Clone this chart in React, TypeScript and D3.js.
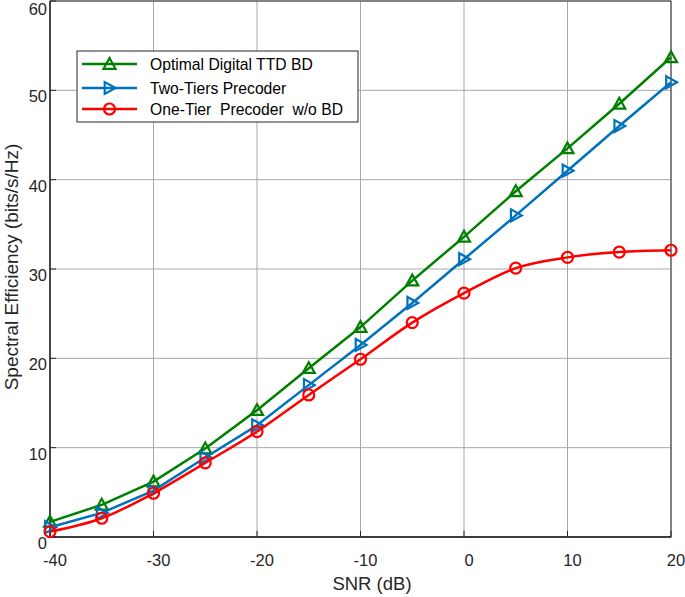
import * as React from "react";
import * as d3 from "d3";

const snr = [-40, -35, -30, -25, -20, -15, -10, -5, 0, 5, 10, 15, 20];
const optimalTTD = [1.7, 3.6, 6.2, 9.9, 14.2, 18.9, 23.5, 28.7, 33.6, 38.7, 43.5, 48.5, 53.7];
const twoTiers = [1.1, 2.7, 5.2, 8.9, 12.5, 17.0, 21.5, 26.2, 31.1, 36.0, 41.0, 46.0, 50.9];
const oneTier = [0.6, 2.1, 4.9, 8.3, 11.8, 15.9, 19.9, 24.0, 27.3, 30.1, 31.3, 31.9, 32.1];
const xTicks = [-40, -30, -20, -10, 0, 10, 20];
const yTicks = [0, 10, 20, 30, 40, 50, 60];
const legendLabels = ["Optimal Digital TTD BD", "Two-Tiers Precoder", "One-Tier  Precoder  w/o BD"];

const W = 685;
const H = 597;
const left = 50;
const right = 671;
const top = 1;
const bottom = 537;
const font = "Liberation Sans, Arial, sans-serif";

function App() {
  const x = d3.scaleLinear().domain([-40, 20]).range([left, right]);
  const y = d3.scaleLinear().domain([0, 60]).range([bottom, top]);

  const straight = d3
    .line<number>()
    .x((d, i) => x(snr[i]))
    .y((d) => y(d));
  const smooth = d3
    .line<number>()
    .x((d, i) => x(snr[i]))
    .y((d) => y(d))
    .curve(d3.curveMonotoneX);

  const series = [
    { name: legendLabels[0], data: optimalTTD, color: "#008000", marker: "tri", path: straight },
    { name: legendLabels[1], data: twoTiers, color: "#0072BD", marker: "right", path: straight },
    { name: legendLabels[2], data: oneTier, color: "#FF0000", marker: "circle", path: smooth },
  ];

  const marker = (kind: string, cx: number, cy: number, color: string, key: any) => {
    const s = 6;
    if (kind === "circle") {
      return <circle key={key} cx={cx} cy={cy} r={5.5} fill="none" stroke={color} strokeWidth={2.2} />;
    }
    if (kind === "tri") {
      const pts = `${cx},${cy - s} ${cx - s},${cy + s * 0.8} ${cx + s},${cy + s * 0.8}`;
      return <polygon key={key} points={pts} fill="none" stroke={color} strokeWidth={2.2} />;
    }
    const pts = `${cx + s},${cy} ${cx - s * 0.8},${cy - s} ${cx - s * 0.8},${cy + s}`;
    return <polygon key={key} points={pts} fill="none" stroke={color} strokeWidth={2.2} />;
  };

  const legendX = 77;
  const legendY = 51;
  const rowY = [64, 88, 109];

  return (
    <svg
      width={W}
      height={H}
      style={{ position: "absolute", left: 0, top: 0, background: "#fff" }}
      fontFamily={font}
    >
      <rect x={0} y={0} width={W} height={H} fill="#fff" />
      {/* grid */}
      {xTicks.map((t) => (
        <line key={"gx" + t} x1={x(t)} x2={x(t)} y1={top} y2={bottom} stroke="#a8a8a8" strokeWidth={1} />
      ))}
      {yTicks.map((t) => (
        <line key={"gy" + t} x1={left} x2={right} y1={y(t)} y2={y(t)} stroke="#a8a8a8" strokeWidth={1} />
      ))}
      {/* box */}
      <rect x={left} y={top} width={right - left} height={bottom - top} fill="none" stroke="#333" strokeWidth={1} />
      <line x1={left} x2={left} y1={top} y2={bottom} stroke="#262626" strokeWidth={1.3} />
      <line x1={left} x2={right} y1={bottom} y2={bottom} stroke="#262626" strokeWidth={1.3} />
      {xTicks.map((t) => (
        <g key={"tx" + t}>
          <line x1={x(t)} x2={x(t)} y1={bottom} y2={bottom - 6} stroke="#262626" />
          <text x={x(t) + 5} y={560} textAnchor="middle" dominantBaseline="central" fontSize={16.5} fill="#262626">
            {t}
          </text>
        </g>
      ))}
      {yTicks.map((t) => (
        <g key={"ty" + t}>
          <line x1={left} x2={left + 6} y1={y(t)} y2={y(t)} stroke="#262626" />
          <text x={47} y={Math.max(y(t) + 6, 9)} textAnchor="end" dominantBaseline="central" fontSize={16.5} fill="#262626">
            {t}
          </text>
        </g>
      ))}
      <text x={372} y={583} textAnchor="middle" dominantBaseline="central" fontSize={18.5} fill="#262626">
        SNR (dB)
      </text>
      <text
        transform={`translate(11, 267)rotate(-90)`}
        textAnchor="middle"
        dominantBaseline="central"
        fontSize={19}
        fill="#262626"
      >
        Spectral Efficiency (bits/s/Hz)
      </text>
      {/* series */}
      {series.map((s) => (
        <g key={s.name}>
          <path d={s.path(s.data) || ""} fill="none" stroke={s.color} strokeWidth={2.5} />
          {s.data.map((v, i) => marker(s.marker, x(snr[i]), y(v), s.color, i))}
        </g>
      ))}
      {/* legend */}
      <rect x={legendX} y={legendY} width={281} height={71} fill="#fff" stroke="#262626" strokeWidth={1} />
      {series.map((s, i) => (
        <g key={"lg" + i}>
          <line x1={82} x2={137} y1={rowY[i]} y2={rowY[i]} stroke={s.color} strokeWidth={2.5} />
          {marker(s.marker, 109.5, rowY[i], s.color, "m" + i)}
          <text x={150} y={rowY[i]} dominantBaseline="central" fontSize={15.7} fill="#000" style={{ whiteSpace: "pre" }}>
            {s.name}
          </text>
        </g>
      ))}
    </svg>
  );
}

export default App;
